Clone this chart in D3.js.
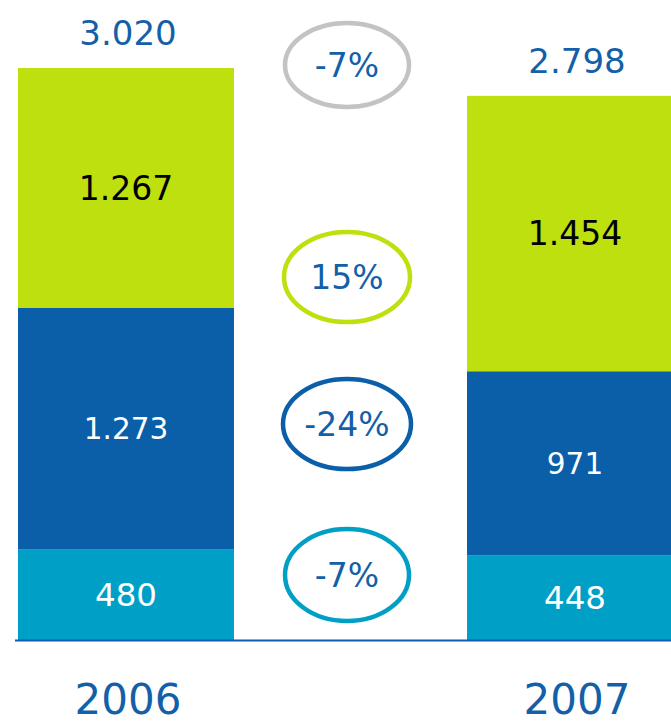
<!DOCTYPE html>
<html><head><meta charset="utf-8">
<script src="https://cdn.jsdelivr.net/npm/d3@7"></script>
<style>html,body{margin:0;padding:0;background:#fff;overflow:hidden}</style>
</head><body>
<svg id="c" width="671" height="723"></svg>
<script>
const years = ["2006", "2007"];
const seriesNames = ["base", "middle", "top"];
const baseValues = [480, 448];
const middleValues = [1273, 971];
const topValues = [1267, 1454];
const totalLabels = ["3.020", "2.798"];
const segmentLabels = [["480", "448"], ["1.273", "971"], ["1.267", "1.454"]];
const changeLabels = ["-7%", "15%", "-24%", "-7%"];

const colors = {base: "#00a0c6", middle: "#0a5fa8", top: "#bfe00f"};
const labelColors = {base: "#ffffff", middle: "#ffffff", top: "#000000"};
const labelSizes = {base: 32.5, middle: 29.5, top: 33};
const textBlue = "#135fa8";
const font = "'DejaVu Sans', Verdana, sans-serif";

const svg = d3.select("#c");
const table = years.map((y, i) => ({year: y, base: baseValues[i], middle: middleValues[i], top: topValues[i], total: totalLabels[i]}));
const stack = d3.stack().keys(seriesNames)(table);

const x = d3.scaleBand().domain(years).range([18, 683]).paddingInner(0.519).paddingOuter(0);
const y = d3.scaleLinear().domain([0, 3020]).range([640, 68]);

const layers = svg.selectAll("g.layer").data(stack).join("g").attr("class", "layer");
layers.selectAll("rect").data(d => d.map(p => ({key: d.key, p}))).join("rect")
  .attr("x", d => x(d.p.data.year))
  .attr("width", x.bandwidth())
  .attr("y", d => y(d.p[1]))
  .attr("height", d => y(d.p[0]) - y(d.p[1]))
  .attr("fill", d => colors[d.key]);

layers.each(function(layer, li) {
  d3.select(this).selectAll("text").data(layer).join("text")
    .attr("x", (d) => x(d.data.year) + x.bandwidth() / 2)
    .attr("y", d => (y(d[0]) + y(d[1])) / 2)
    .attr("dy", "0.36em")
    .attr("text-anchor", "middle")
    .attr("font-family", font)
    .attr("font-size", labelSizes[layer.key])
    .attr("fill", labelColors[layer.key])
    .text((d, i) => segmentLabels[li][i]);
});

// totals
svg.selectAll("text.total").data(stack[2]).join("text").attr("class", "total")
  .attr("x", d => x(d.data.year) + x.bandwidth() / 2 + 2)
  .attr("y", d => y(d[1]) - 23)
  .attr("text-anchor", "middle")
  .attr("font-family", font).attr("font-size", 34).attr("fill", textBlue)
  .text(d => d.data.total);

// baseline axis
svg.append("line").attr("x1", 15).attr("x2", 671).attr("y1", y(0) + 0.5).attr("y2", y(0) + 0.5)
  .attr("stroke", "#0a5fa8").attr("stroke-width", 2);

// year labels
svg.selectAll("text.year").data(years).join("text").attr("class", "year")
  .attr("x", d => x(d) + x.bandwidth() / 2 + 2)
  .attr("y", 714)
  .attr("text-anchor", "middle")
  .attr("font-family", font).attr("font-size", 42).attr("fill", textBlue)
  .text(d => d);

// change ellipses
const ellipseLayout = [
  {cy: 65, rx: 62, ry: 42, stroke: "#c3c3c3"},
  {cy: 277, rx: 63, ry: 45, stroke: "#bfe00f"},
  {cy: 424, rx: 64, ry: 45, stroke: "#0a5fa8"},
  {cy: 575, rx: 62, ry: 46, stroke: "#00a0c6"}
];
const cx = 347;
const eg = svg.selectAll("g.chg").data(changeLabels).join("g").attr("class", "chg");
eg.append("ellipse")
  .attr("cx", cx).attr("cy", (d, i) => ellipseLayout[i].cy)
  .attr("rx", (d, i) => ellipseLayout[i].rx).attr("ry", (d, i) => ellipseLayout[i].ry)
  .attr("fill", "none").attr("stroke", (d, i) => ellipseLayout[i].stroke).attr("stroke-width", 4.5);
eg.append("text")
  .attr("x", cx).attr("y", (d, i) => ellipseLayout[i].cy)
  .attr("dy", "0.36em").attr("text-anchor", "middle")
  .attr("font-family", font).attr("font-size", 33).attr("fill", textBlue)
  .text(d => d);
</script>
</body></html>
